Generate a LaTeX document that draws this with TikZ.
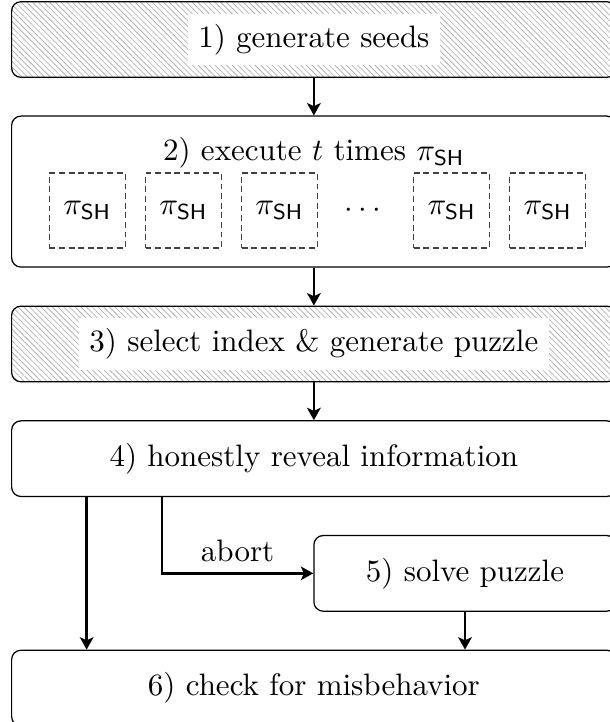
\documentclass[tikz,border=0pt]{standalone}
\usepackage{amsmath,amssymb}
\usepackage{tikz}
\usetikzlibrary{arrows.meta, positioning, calc, patterns.meta}
\newcommand{\piSH}{\pi_{\mathsf{SH}}}
\tikzset{
  stepbox/.style={draw, rounded corners=3pt, align=center, minimum width=195pt, minimum height=24.4pt, inner sep=0pt},
  hatched/.style={stepbox, pattern={Lines[angle=-45, distance=1.3pt, line width=0.2pt]}, pattern color=black!35},
  tallbox/.style={stepbox, minimum height=48.7pt},
  halfbox/.style={stepbox, minimum width=97.5pt},
  txtbg/.style={fill=white, inner sep=3.3pt},
  cell/.style={draw=black!75, dash pattern=on 1.9pt off 1.2pt, minimum width=24.5pt, minimum height=24.2pt, inner sep=0pt},
  dotsbox/.style={minimum width=18pt, minimum height=24.2pt, inner sep=0pt},
  flow/.style={-{Stealth[length=4pt, width=4.4pt, inset=1pt]}, thick}
}

\begin{document}
\begin{tikzpicture}[node distance=12.2pt]
    \useasboundingbox (0,0) rectangle (196.5pt,-232.9pt);

    % hatched steps get a white plate under the text
    \node[hatched] (gen) at (101.25pt,-12.75pt) {};
    \node[txtbg] (gen-t) at (gen) {1) generate seeds};

    \node[tallbox, below=of gen] (exec) {};
    \node (exec-t) at ([yshift=-12pt]exec.north) {2) execute $t$ times $\piSH$};
    \node[cell, right=12.2pt of exec.west, yshift=-6.1pt] (p1) {$\piSH$};
    \node[cell, right=6.1pt of p1] (p2) {$\piSH$};
    \node[cell, right=6.1pt of p2] (p3) {$\piSH$};
    \node[dotsbox, right=6.1pt of p3] (pdots) {$\cdots$};
    \node[cell, right=6.1pt of pdots] (p4) {$\piSH$};
    \node[cell, right=6.1pt of p4] (p5) {$\piSH$};

    \node[hatched, below=of exec] (sel) {};
    \node[txtbg] (sel-t) at (sel) {3) select index \& generate puzzle};

    \node[stepbox, below=of sel] (rev) {4) honestly reveal information};
    \node[halfbox, below=of rev.south east, anchor=north east] (solve) {5) solve puzzle};
    \coordinate (mid) at (rev.south |- solve.south);
    \node[stepbox, below=of mid] (check) {6) check for misbehavior};

    \coordinate (rev-l) at ([xshift=24.4pt]rev.south west);
    \coordinate (rev-a) at ([xshift=48.7pt]rev.south west);

    \draw[flow] (gen) -- (exec);
    \draw[flow] (exec) -- (sel);
    \draw[flow] (sel) -- (rev);
    \draw[flow] (rev-l) -- (rev-l |- check.north);
    \draw[flow] (rev-a) |- (solve.west) node[pos=0.75, above] (abort-t) {abort};
    \draw[flow] (solve.south) -- (solve.south |- check.north);
\end{tikzpicture}
\end{document}
